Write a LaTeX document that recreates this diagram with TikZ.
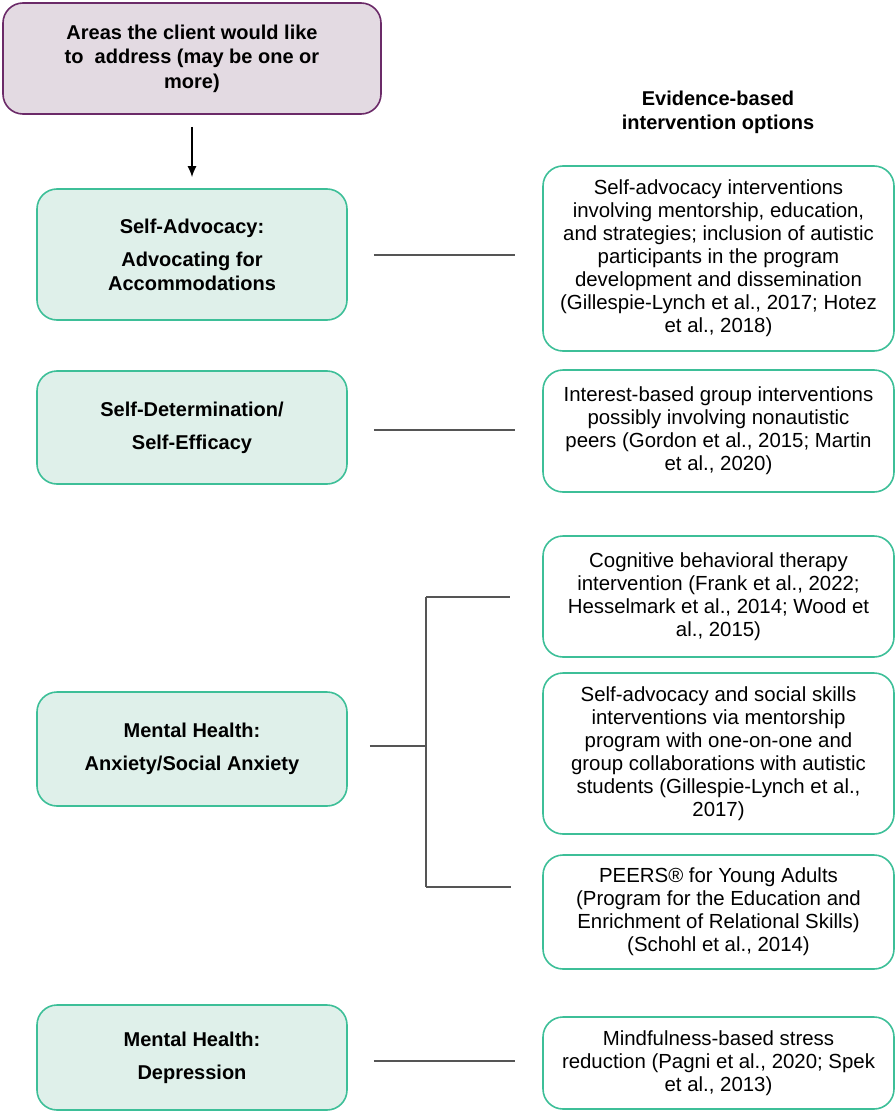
\documentclass[tikz,border=0pt]{standalone}
\usepackage{fontspec}
\setmainfont{Liberation Sans}
\usepackage{xcolor}
\usepackage{tikz}
\usetikzlibrary{calc,arrows.meta}
\definecolor{plum}{HTML}{6B2A68}
\definecolor{plumfill}{HTML}{E3DAE2}
\definecolor{teal}{HTML}{3DBF98}
\definecolor{tealfill}{HTML}{DFF0EA}
\definecolor{wire}{HTML}{555555}
\tikzset{
  areabox/.style={draw=teal, fill=tealfill, line width=1.6pt, rounded corners=20pt,
    minimum width=310pt, inner sep=0pt, align=center, font=\bfseries\fontsize{20}{24}\selectfont},
  optbox/.style={draw=teal, fill=white, line width=1.6pt, rounded corners=20pt,
    minimum width=351pt, inner sep=0pt, align=center, font=\fontsize{20.4}{23}\selectfont},
  link/.style={draw=wire, line width=1.6pt},
}

\begin{document}
\begin{tikzpicture}[x=1pt,y=-1pt]
\useasboundingbox (0,0) rectangle (895,1113);
\node[draw=plum, fill=plumfill, line width=1.6pt, rounded corners=20pt, minimum width=378pt,
  minimum height=111pt, inner sep=0pt, align=center, font=\bfseries\fontsize{20}{24.5}\selectfont]
  (client) at (192,58.5) {Areas the client would like\\to\ \ address (may be one or\\more)};
\node[font=\bfseries\fontsize{20}{24}\selectfont, align=center] (head) at (718,112)
  {Evidence-based\\intervention options};

% areas
\node[areabox, minimum height=131pt] (adv) at (192,254.5) {Self-Advocacy:\\[9pt]Advocating for\\Accommodations};
\node[areabox, minimum height=113pt] (det) at (192,427.5) {Self-Determination/\\[9pt]Self-Efficacy};
\node[areabox, minimum height=114pt] (anx) at (192,749) {Mental Health:\\[9pt]Anxiety/Social Anxiety};
\node[areabox, minimum height=105pt] (dep) at (192,1057.5) {Mental Health:\\[9pt]Depression};

% options
\node[optbox, minimum height=185pt] (advopt) at (718.5,258.5) {Self-advocacy interventions\\involving mentorship, education,\\and strategies; inclusion of autistic\\participants in the program\\development and dissemination\\(Gillespie-Lynch et al., 2017; Hotez\\et al., 2018)};
\node[optbox, minimum height=122pt] (detopt) at (718.5,431) {Interest-based group interventions\\possibly involving nonautistic\\peers (Gordon et al., 2015; Martin\\et al., 2020)};
\node[optbox, minimum height=121pt] (cbt) at (718.5,596.5) {Cognitive behavioral therapy\\intervention (Frank et al., 2022;\\Hesselmark et al., 2014; Wood et\\al., 2015)};
\node[optbox, minimum height=161pt] (ment) at (718.5,753.5) {Self-advocacy and social skills\\interventions via mentorship\\program with one-on-one and\\group collaborations with autistic\\students (Gillespie-Lynch et al.,\\2017)};
\node[optbox, minimum height=114pt] (peers) at (718.5,912) {PEERS® for Young Adults\\(Program for the Education and\\Enrichment of Relational Skills)\\(Schohl et al., 2014)};
\node[optbox, minimum height=92pt] (mbsr) at (718.5,1063) {Mindfulness-based stress\\reduction (Pagni et al., 2020; Spek\\et al., 2013)};

% connectors
\draw[line width=1.6pt, -{Latex[length=11pt,width=9pt]}, shorten <=12pt, shorten >=11pt] (client.south) -- (adv.north);
\draw[link, shorten <=26pt, shorten >=27pt] ($(adv.east)+(0,0.5)$) -- ($(adv.east -| advopt.west)+(0,0.5)$);
\draw[link, shorten <=26pt, shorten >=27pt] ($(det.east)+(0,2.5)$) -- ($(det.east -| detopt.west)+(0,2.5)$);
\draw[link, shorten <=26pt, shorten >=27pt] ($(dep.east)+(0,3.5)$) -- ($(dep.east -| mbsr.west)+(0,3.5)$);
\coordinate (brm) at (426,746);
\coordinate (brt) at (426,597);
\coordinate (brb) at (426,887);
\draw[link, shorten <=22pt] (anx.east |- brm) -- (brm);
\draw[link] (brt) -- (brb);
\draw[link, shorten >=32pt] (brt) -- (brt -| cbt.west);
\draw[link, shorten >=31pt] (brb) -- (brb -| peers.west);
\end{tikzpicture}
\end{document}
